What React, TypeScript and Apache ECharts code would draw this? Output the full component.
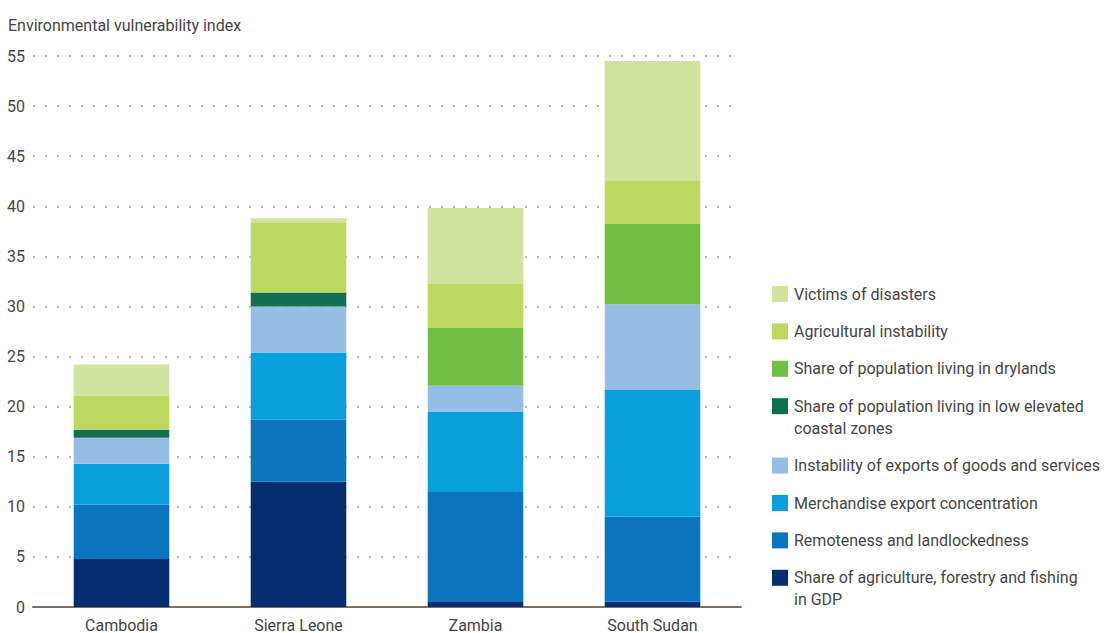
import React, { useEffect, useRef } from "react";
import * as echarts from "echarts";

const categories = ["Cambodia", "Sierra Leone", "Zambia", "South Sudan"];

const seriesNames = [
  "Share of agriculture, forestry and fishing\nin GDP",
  "Remoteness and landlockedness",
  "Merchandise export concentration",
  "Instability of exports of goods and services",
  "Share of population living in low elevated\ncoastal zones",
  "Share of population living in drylands",
  "Agricultural instability",
  "Victims of disasters",
];

const seriesColors = [
  "#062D6F",
  "#0A74BF",
  "#0A9FDC",
  "#96BEE5",
  "#126E51",
  "#71BF45",
  "#BDD75F",
  "#D2E39D",
];

const agricultureGdp = [4.8, 12.5, 0.5, 0.53];
const remoteness = [5.4, 6.2, 10.98, 8.49];
const merchandise = [4.1, 6.7, 7.99, 12.64];
const exportInstability = [2.6, 4.6, 2.62, 8.56];
const coastalZones = [0.8, 1.4, 0, 0];
const drylands = [0, 0, 5.76, 8.0];
const agriculturalInstability = [3.4, 7.0, 4.39, 4.38];
const disasterVictims = [3.1, 0.4, 7.59, 11.89];

const seriesValues = [
  agricultureGdp,
  remoteness,
  merchandise,
  exportInstability,
  coastalZones,
  drylands,
  agriculturalInstability,
  disasterVictims,
];

const yTicks = { min: 0, max: 55, interval: 5 };

const FONT = "Roboto, 'Noto Sans', sans-serif";
const TEXT = "#454545";

export default function App() {
  const ref = useRef<HTMLDivElement>(null);

  useEffect(() => {
    document.body.style.margin = "0";
    if (!ref.current) return;
    const chart = echarts.init(ref.current, null, { renderer: "svg" });

    const legendEls: any[] = [];
    let cy = 294;
    for (let i = seriesNames.length - 1; i >= 0; i--) {
      const lines = seriesNames[i].split("\n").length;
      legendEls.push({
        type: "rect",
        shape: { x: 772, y: cy - 8, width: 16, height: 16 },
        style: { fill: seriesColors[i] },
      });
      legendEls.push({
        type: "text",
        x: 794,
        y: cy - 11,
        style: {
          text: seriesNames[i],
          fill: TEXT,
          font: `16px ${FONT}`,
          lineHeight: 22,
          verticalAlign: "top",
          align: "left",
        },
      });
      cy += 37.4 + 22 * (lines - 1);
    }

    chart.setOption({
      animation: false,
      textStyle: { fontFamily: FONT },
      grid: { left: 33, right: 365, top: 56, bottom: 26 },
      graphic: [
        {
          type: "text",
          x: 8,
          y: 25,
          style: {
            text: "Environmental vulnerability index",
            fill: TEXT,
            font: `16px ${FONT}`,
            verticalAlign: "middle",
            align: "left",
          },
        },
        ...legendEls,
      ],
      xAxis: {
        type: "category",
        data: categories,
        axisLine: { show: true, lineStyle: { color: "#7d7068", width: 2 } },
        axisTick: { show: false },
        axisLabel: {
          color: TEXT,
          fontSize: 16,
          fontFamily: FONT,
          margin: 10,
        },
      },
      yAxis: {
        type: "value",
        min: yTicks.min,
        max: yTicks.max,
        interval: yTicks.interval,
        axisLine: { show: false },
        axisTick: { show: false },
        axisLabel: {
          color: TEXT,
          fontSize: 16,
          fontFamily: FONT,
          margin: 8,
        },
        splitLine: {
          show: true,
          lineStyle: { color: "#b0a59d", width: 1.6, type: [2, 10] },
        },
      },
      series: seriesNames.map((name, i) => ({
        name,
        type: "bar",
        stack: "total",
        barWidth: "54%",
        data: seriesValues[i],
        itemStyle: { color: seriesColors[i] },
        emphasis: { disabled: true },
      })),
    });

    return () => chart.dispose();
  }, []);

  return <div ref={ref} style={{ width: 1106, height: 633 }} />;
}
